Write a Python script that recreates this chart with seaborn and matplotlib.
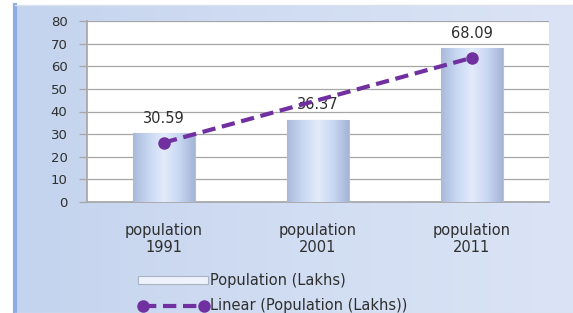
import matplotlib
matplotlib.use('Agg')
import matplotlib.pyplot as plt
from matplotlib.colors import LinearSegmentedColormap
from matplotlib.patches import Patch
from matplotlib.lines import Line2D
import seaborn as sns
import numpy as np
import pandas as pd

# data
years = ['1991', '2001', '2011']
categories = ['population\n1991', 'population\n2001', 'population\n2011']
population = [30.59, 36.37, 68.09]
y_ticks = [0, 10, 20, 30, 40, 50, 60, 70, 80]

df = pd.DataFrame({'category': categories, 'population': population})

sns.set_theme(style='white')
plt.rcParams['font.family'] = ['DejaVu Sans']
text_color = '#2f2f2f'
trend_color = '#7030a0'

W, H = 573, 313
fig = plt.figure(figsize=(W / 100, H / 100), dpi=100, facecolor='white')

# chart area background with a soft horizontal gradient
ax_bg = fig.add_axes([15 / W, 0, 1 - 15 / W, 1 - 5 / H])
bg = np.linspace(0, 1, 256).reshape(1, -1)
bg_cmap = LinearSegmentedColormap.from_list('bg', ['#c4d3ee', '#d1ddf2', '#dbe4f6'])
ax_bg.imshow(bg, cmap=bg_cmap, aspect='auto', extent=[0, 1, 0, 1])
ax_bg.set_xticks([])
ax_bg.set_yticks([])
for side, sp in ax_bg.spines.items():
    sp.set_color('#d9e1ee')
    sp.set_linewidth(1)
ax_bg.spines['left'].set_color('#8eaee0')
ax_bg.spines['left'].set_linewidth(3)

# plot area
ax = fig.add_axes([87 / W, 1 - 202 / H, (549 - 87) / W, (202 - 21) / H])
ax.set_facecolor('white')
sns.barplot(data=df, x='category', y='population', color='#c9d7f1',
            width=0.4, edgecolor='#b8c2d4', linewidth=0.8, ax=ax, zorder=3)

# cylinder-like shading on bars
bar_cmap = LinearSegmentedColormap.from_list(
    'bar', ['#a9b9d8', '#c8d7f2', '#e3ebfa', '#c8d7f2', '#a3b4d5'])
grad = np.linspace(0, 1, 256).reshape(1, -1)
for patch in ax.patches:
    x0, y0 = patch.get_x(), patch.get_y()
    w, h = patch.get_width(), patch.get_height()
    im = ax.imshow(grad, cmap=bar_cmap, aspect='auto',
                   extent=[x0, x0 + w, y0, y0 + h], zorder=3.5)
    im.set_clip_path(patch)

# data labels
for i, v in enumerate(population):
    ax.text(i, v + 3.2, f'{v:.2f}', ha='center', va='bottom',
            fontsize=10.5, color=text_color, zorder=5)

# linear trendline through the bar values
xpos = np.arange(len(population))
coef = np.polyfit(xpos, population, 1)
trend = np.polyval(coef, xpos)
ax.plot(xpos, trend, linestyle=(0, (3.2, 1.6)), color=trend_color, linewidth=3,
        marker='o', markersize=8, markevery=[0, len(xpos) - 1], zorder=6)

ax.set_xlim(-0.5, 2.5)
ax.set_ylim(0, 80)
ax.set_yticks(y_ticks)
ax.yaxis.grid(True, color='#a6a6a6', linewidth=0.9, zorder=0)
ax.set_axisbelow(True)
ax.tick_params(axis='y', which='both', left=True, length=6, width=0.9,
               color='#a6a6a6', labelsize=9.5, labelcolor=text_color, pad=8)
ax.tick_params(axis='x', bottom=False, labelsize=10.5, labelcolor=text_color, pad=9)
ax.set_xlabel('')
ax.set_ylabel('')
for side in ['top', 'right']:
    ax.spines[side].set_visible(False)
ax.spines['left'].set_color('#a6a6a6')
ax.spines['bottom'].set_color('#a6a6a6')

# legend
handles = [
    Patch(facecolor='#eef2fa', edgecolor='#a9b3c4', linewidth=0.8),
    Line2D([0, 1], [0, 0], color=trend_color, linewidth=3,
           linestyle=(0, (3.2, 1.6)), marker='o', markersize=8),
]
labels = ['Population (Lakhs)', 'Linear (Population (Lakhs))']
leg = fig.legend(handles, labels, loc='upper left', bbox_to_anchor=(128 / W, 1 - 263 / H),
                 frameon=False, fontsize=10.5, handlelength=4.8, handleheight=0.5,
                 handletextpad=0.15, labelspacing=0.7, numpoints=2, borderpad=0.2)
for t in leg.get_texts():
    t.set_color(text_color)

fig.savefig('out.png', dpi=100, facecolor='white')
